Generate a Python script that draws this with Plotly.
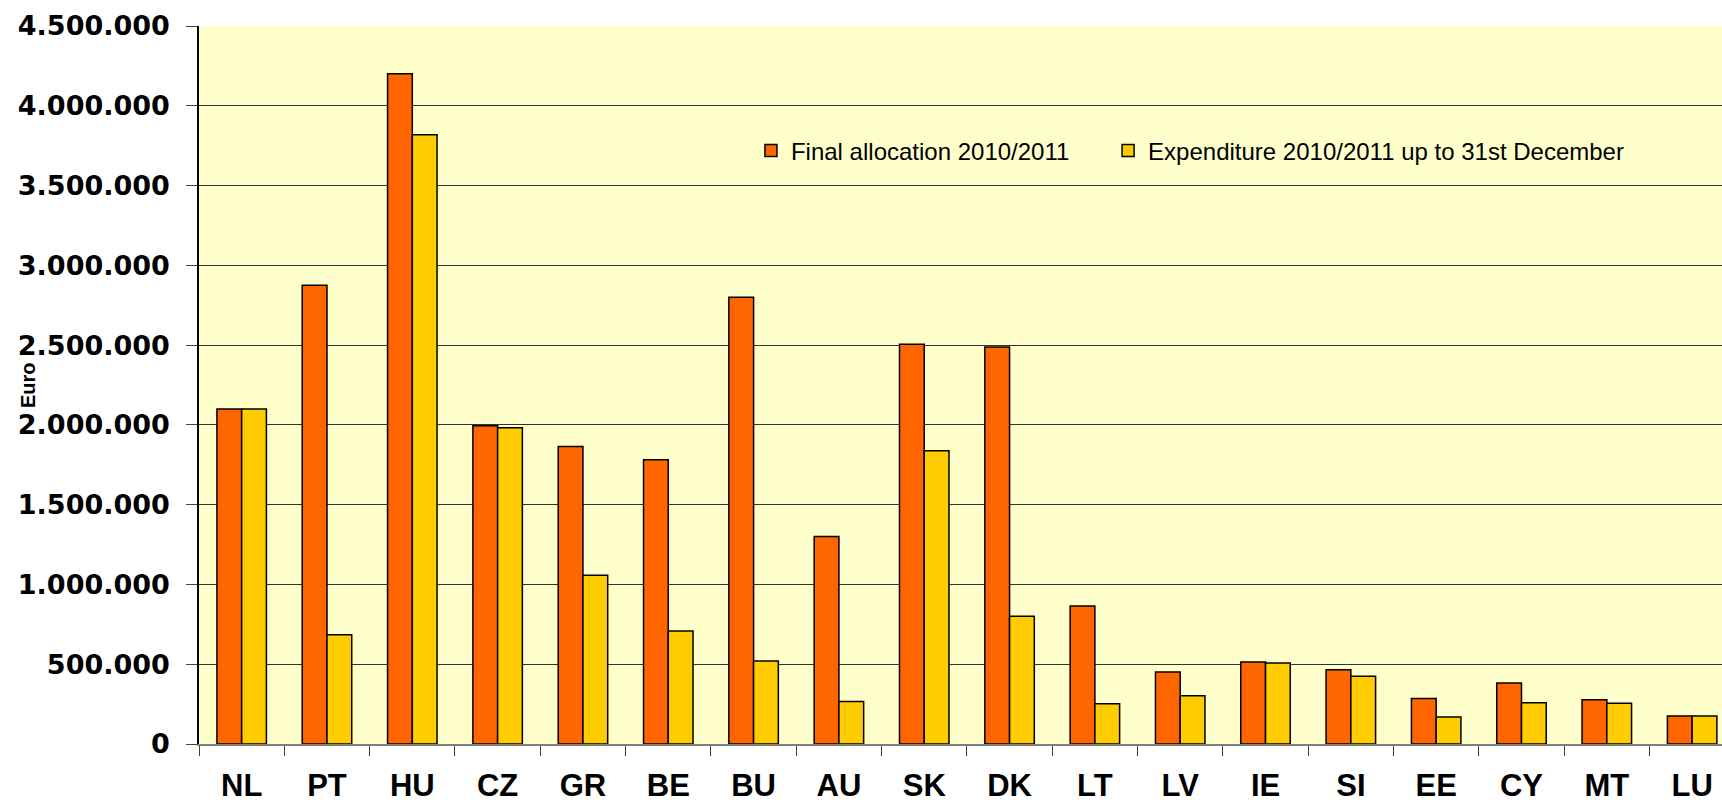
import plotly.graph_objects as go

countries = ["NL", "PT", "HU", "CZ", "GR", "BE", "BU", "AU", "SK", "DK",
             "LT", "LV", "IE", "SI", "EE", "CY", "MT", "LU"]
final_allocation = [2100000, 2875000, 4200000, 1995000, 1865000, 1782000, 2800000, 1300000, 2505000,
                    2488000, 865000, 452000, 514000, 466000, 285000, 383000, 278000, 175000]
expenditure = [2100000, 685000, 3818000, 1982000, 1058000, 708000, 520000, 266000, 1838000,
               800000, 252000, 302000, 508000, 425000, 170000, 258000, 256000, 175000]
y_ticks = [0, 500000, 1000000, 1500000, 2000000, 2500000, 3000000, 3500000, 4000000, 4500000]
y_tick_labels = ["0", "500.000", "1.000.000", "1.500.000", "2.000.000", "2.500.000",
                 "3.000.000", "3.500.000", "4.000.000", "4.500.000"]

fig = go.Figure()
fig.add_trace(go.Bar(
    x=countries, y=final_allocation, name="Final allocation 2010/2011",
    marker=dict(color="#FF6600", line=dict(color="#000000", width=1.5)),
    legend="legend",
))
fig.add_trace(go.Bar(
    x=countries, y=expenditure, name="Expenditure 2010/2011 up to 31st December",
    marker=dict(color="#FFCC00", line=dict(color="#000000", width=1.5)),
    legend="legend2",
))

legend_common = dict(
    orientation="h", y=0.826, xanchor="left", yanchor="middle",
    bgcolor="rgba(0,0,0,0)", font=dict(family="Liberation Sans, Arial", size=24, color="#000000"),
)

fig.update_layout(
    width=1722, height=805,
    margin=dict(l=199, r=0, t=26, b=61, autoexpand=False),
    paper_bgcolor="#FFFFFF",
    plot_bgcolor="#FFFFCC",
    barmode="group",
    bargap=0.42,
    bargroupgap=0,
    showlegend=True,
    legend=dict(x=0.3624, **legend_common),
    legend2=dict(x=0.5969, **legend_common),
    font=dict(family="Liberation Sans, Arial", color="#000000"),
    annotations=[dict(
        text="<b>Euro</b>", xref="paper", yref="paper", x=-0.1123, y=0.5,
        xanchor="center", yanchor="middle", textangle=-90, showarrow=False,
        font=dict(family="Liberation Sans, Arial", size=20, color="#000000"),
    )],
)

fig.update_xaxes(
    type="category",
    range=[-0.5, 17.35],
    automargin=False,
    showgrid=False,
    showline=True, linecolor="#808080", linewidth=1.5,
    ticks="outside", tickson="boundaries", ticklen=10, tickcolor="#404040", tickwidth=1,
    tickfont=dict(family="Liberation Sans, Arial", size=31, color="#000000", weight="bold"),
    ticklabelstandoff=13,
)
fig.update_yaxes(
    range=[0, 4500000],
    automargin=False,
    tickmode="array", tickvals=y_ticks, ticktext=y_tick_labels,
    showgrid=True, gridcolor="#333333", gridwidth=1,
    showline=True, linecolor="#000000", linewidth=1.5,
    ticks="outside", ticklen=11, tickcolor="#404040", tickwidth=1,
    tickfont=dict(family="DejaVu Sans", size=27, color="#000000", weight="bold"),
    ticklabelstandoff=11,
    zeroline=False,
)

fig.write_html(
    "out.html",
    config={"displayModeBar": False},
    post_script="document.body.style.margin='0';document.body.style.overflow='hidden';",
)
